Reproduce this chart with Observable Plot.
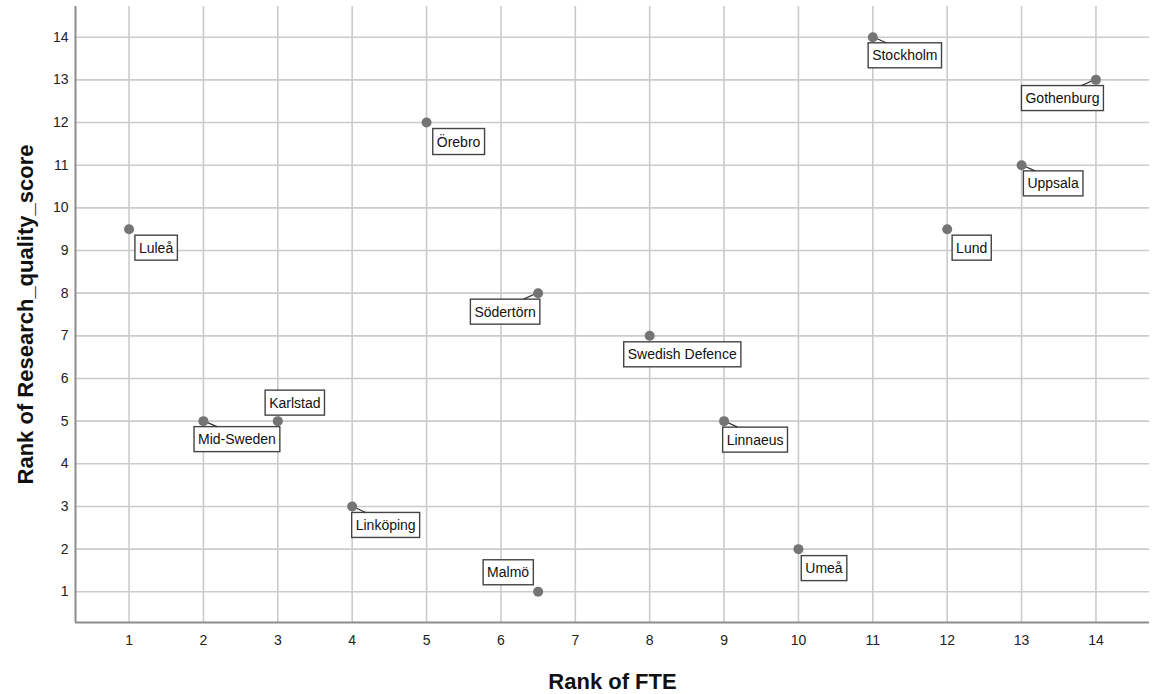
<!DOCTYPE html>
<html><head><meta charset="utf-8">
<script src="https://cdn.jsdelivr.net/npm/d3@7"></script>
<script src="https://cdn.jsdelivr.net/npm/@observablehq/plot@0.6"></script>
<style>body{margin:0;background:#fff}svg{display:block}#err{position:absolute;left:300px;top:10px;color:red;font:12px monospace}</style>
</head><body><div id="chart"></div><div id="err"></div>
<script>
// ---- data ----
const universities = ["Luleå","Mid-Sweden","Karlstad","Linköping","Örebro","Södertörn","Malmö","Swedish Defence","Linnaeus","Umeå","Stockholm","Lund","Uppsala","Gothenburg"];
const rankFTE      = [1, 2, 3, 4, 5, 6.5, 6.5, 8, 9, 10, 11, 12, 13, 14];
const rankQuality  = [9.5, 5, 5, 3, 12, 8, 1, 7, 5, 2, 14, 9.5, 11, 13];
const tickValues   = [1,2,3,4,5,6,7,8,9,10,11,12,13,14];
const xTitle = "Rank of FTE";
const yTitle = "Rank of Research_quality_score";

// ---- label layout (offset of label centre from its point, px) ----
const labelDx = [27, 33.5, 17, 33.5, 32, -33, -30, 32.5, 31, 25.5, 32, 24.5, 31.5, -33.5];
const labelDy = [19, 18.5, -18, 19, 20, 19, -19, 19, 19, 19.5, 18.6, 19, 18.7, 18.7];
const hasLeader = [false, true, false, true, false, true, false, false, true, false, true, false, true, true];

const data = universities.map((name, i) => ({name, x: rankFTE[i], y: rankQuality[i]}));
const domain = [0.28, 14.72];
const font = "Arial, 'Liberation Sans', sans-serif";

const labelMarks = data.map((d, i) => Plot.text([d], {
  x: "x", y: "y", text: "name", dx: labelDx[i], dy: labelDy[i],
  fontSize: 14, fill: "#111"
}));

const plot = Plot.plot({
  width: 1157, height: 694,
  marginLeft: 75, marginRight: 8, marginTop: 6, marginBottom: 72,
  style: {fontFamily: font, fontSize: "14px", color: "#222", background: "#fff"},
  x: {type: "linear", domain},
  y: {type: "linear", domain},
  marks: [
    Plot.gridX(tickValues, {stroke: "#cbcbcb", strokeOpacity: 1, strokeWidth: 1.6}),
    Plot.gridY(tickValues, {stroke: "#cbcbcb", strokeOpacity: 1, strokeWidth: 1.6}),
    Plot.ruleX([domain[0]], {stroke: "#8c8c8c", strokeWidth: 2}),
    Plot.ruleY([domain[0]], {stroke: "#8c8c8c", strokeWidth: 2}),
    Plot.axisX(tickValues, {tickSize: 0, tickPadding: 13, label: null, fontSize: 14}),
    Plot.axisY(tickValues, {tickSize: 0, tickPadding: 7, label: null, fontSize: 14}),
    Plot.text([xTitle], {frameAnchor: "bottom", textAnchor: "middle", dy: 66, fontSize: 22, fontWeight: "bold", fill: "#111"}),
    Plot.text([yTitle], {frameAnchor: "left", textAnchor: "middle", dx: -50, rotate: -90, fontSize: 22, fontWeight: "bold", fill: "#111"}),
    ...labelMarks,
    Plot.dot(data, {x: "x", y: "y", r: 5, fill: "#747474", stroke: "none"})
  ]
});
document.getElementById("chart").append(plot);

// ---- label boxes and leader lines ----
try {
  const svg = d3.select(plot);
  const xs = plot.scale("x"), ys = plot.scale("y");
  const svgRect = plot.getBoundingClientRect();
  const dotGroup = plot.querySelector("circle").parentNode;
  const leaderG = document.createElementNS("http://www.w3.org/2000/svg", "g");
  dotGroup.parentNode.insertBefore(leaderG, dotGroup);
  svg.selectAll("text").filter(function() { return universities.includes(this.textContent); }).each(function() {
    const i = universities.indexOf(this.textContent);
    const bb = this.getBBox();
    const padX = 4, padY = 4.5;
    const rect = document.createElementNS("http://www.w3.org/2000/svg", "rect");
    rect.setAttribute("x", bb.x - padX);
    rect.setAttribute("y", bb.y - padY);
    rect.setAttribute("width", bb.width + 2 * padX);
    rect.setAttribute("height", bb.height + 2 * padY);
    if (this.getAttribute("transform")) rect.setAttribute("transform", this.getAttribute("transform"));
    rect.setAttribute("fill", "#fff");
    rect.setAttribute("stroke", "#444");
    rect.setAttribute("stroke-width", 1.4);
    this.parentNode.insertBefore(rect, this);
    if (!hasLeader[i]) return;
    const r = rect.getBoundingClientRect();
    const left = r.left - svgRect.left, right = r.right - svgRect.left;
    const top = r.top - svgRect.top, bottom = r.bottom - svgRect.top;
    const px = xs.apply(rankFTE[i]), py = ys.apply(rankQuality[i]);
    const tx = Math.max(left, Math.min(right, px + Math.sign(labelDx[i]) * 14));
    const ty = top > py ? top : bottom;
    d3.select(leaderG).append("line").attr("x1", px).attr("y1", py).attr("x2", tx).attr("y2", ty)
      .attr("stroke", "#333").attr("stroke-width", 1.2);
  });
} catch (e) {
  document.getElementById("err").textContent = e.message;
}
</script>
</body></html>
